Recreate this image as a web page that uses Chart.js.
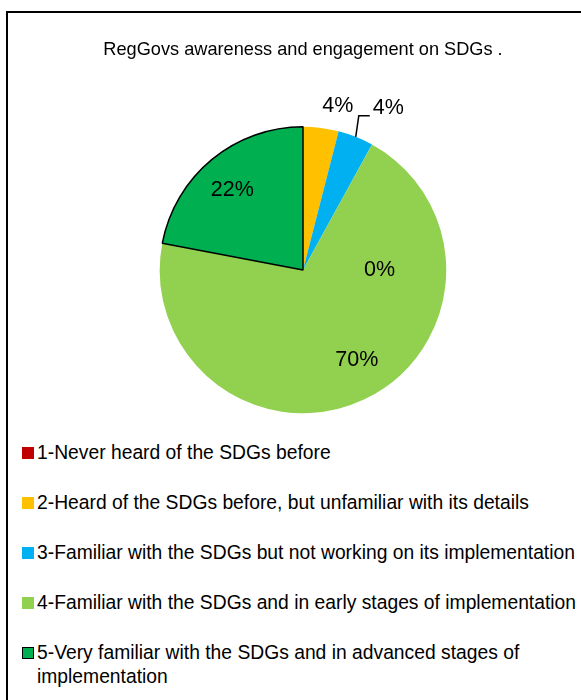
<!DOCTYPE html>
<html>
<head>
<meta charset="utf-8">
<script src="https://cdn.jsdelivr.net/npm/chart.js@4/dist/chart.umd.min.js"></script>
<style>
  html, body { margin: 0; padding: 0; background: #fff; }
  body { width: 581px; height: 700px; position: relative; overflow: hidden; font-family: "Liberation Sans", Arial, sans-serif; }
  #frame { position: absolute; left: 6px; top: 11px; width: 700px; height: 800px; border-left: 2px solid #000; border-top: 2px solid #000; }
  #pie { position: absolute; left: 0; top: 0; }
  #legend { position: absolute; left: 0; top: 441px; width: 581px; color: #000; font-size: 19.3px; }
  .item { position: relative; line-height: 24px; margin-bottom: 26px; padding-left: 37px; white-space: nowrap; }
  .box { position: absolute; left: 22px; top: 6px; width: 12px; height: 12px; box-sizing: border-box; }
</style>
</head>
<body>
<div id="frame"></div>
<canvas id="pie" width="581" height="430"></canvas>
<div id="legend"></div>
<script>
// chart data
const chartTitle = 'RegGovs awareness and engagement on SDGs .';
const categories = [
  '1-Never heard of the SDGs before',
  '2-Heard of the SDGs before, but unfamiliar with its details',
  '3-Familiar with the SDGs but not working on its implementation',
  '4-Familiar with the SDGs and in early stages of implementation',
  ['5-Very familiar with the SDGs and in advanced stages of', 'implementation']
];
const shares = [0, 4, 4, 70, 22];
const sliceColors = ['#C00000', '#FFC000', '#00B0F0', '#92D050', '#00B050'];
const sliceBorders = [0, 0, 0, 0, 1.5];

// where each percentage label sits: angle (deg, canvas coords) and distance as a fraction of the radius
const labelSpots = [
  { angle: 0, dist: 0.535 },
  { angle: -78, dist: 1.17 },
  { angle: -62, dist: 1.29, leader: true },
  { angle: 59, dist: 0.73 },
  { angle: -131.6, dist: 0.743 }
];

// draws the % labels (and the one leader line) from the arc geometry
const pieLabels = {
  id: 'pieLabels',
  afterDatasetsDraw(chart) {
    const ctx = chart.ctx;
    const meta = chart.getDatasetMeta(0);
    ctx.save();
    ctx.fillStyle = '#000';
    ctx.font = '21.5px "Liberation Sans", Arial, sans-serif';
    ctx.textBaseline = 'middle';
    meta.data.forEach((arc, i) => {
      const spot = labelSpots[i];
      const r = arc.outerRadius;
      const text = shares[i] + '%';
      if (spot.leader) {
        const mid = (arc.startAngle + arc.endAngle) / 2;
        const sx = arc.x + Math.cos(mid) * r, sy = arc.y + Math.sin(mid) * r;
        const ex = arc.x + Math.cos(mid - 0.03) * r * 1.145, ey = arc.y + Math.sin(mid - 0.03) * r * 1.145;
        ctx.strokeStyle = '#000';
        ctx.lineWidth = 1.5;
        ctx.beginPath();
        ctx.moveTo(sx, sy);
        ctx.lineTo(ex, ey);
        ctx.lineTo(ex + 11, ey);
        ctx.stroke();
        ctx.textAlign = 'left';
        ctx.fillText(text, ex + 14, ey - 8);
        return;
      }
      const a = spot.angle * Math.PI / 180;
      ctx.textAlign = 'center';
      ctx.fillText(text, arc.x + Math.cos(a) * r * spot.dist, arc.y + Math.sin(a) * r * spot.dist);
    });
    ctx.restore();
  }
};

new Chart(document.getElementById('pie'), {
  type: 'pie',
  data: {
    labels: categories,
    datasets: [{
      data: shares,
      backgroundColor: sliceColors,
      borderColor: '#000',
      borderWidth: sliceBorders,
      hoverOffset: 0
    }]
  },
  options: {
    responsive: false,
    animation: false,
    layout: { padding: { left: 25, right: 0, top: 39, bottom: 16 } },
    plugins: {
      legend: { display: false },
      tooltip: { enabled: false },
      title: {
        display: true,
        text: chartTitle,
        color: '#000',
        font: { family: '"Liberation Sans", Arial, sans-serif', size: 18.2, weight: 'normal' },
        padding: { top: 0, bottom: 65.2 }
      }
    }
  },
  plugins: [pieLabels]
});

// legend built from the same arrays
const legend = document.getElementById('legend');
categories.forEach((label, i) => {
  const item = document.createElement('div');
  item.className = 'item';
  const box = document.createElement('span');
  box.className = 'box';
  box.style.background = sliceColors[i];
  if (sliceBorders[i] > 0) box.style.border = '1.5px solid #000';
  item.appendChild(box);
  const lines = Array.isArray(label) ? label : [label];
  lines.forEach((line, k) => {
    if (k > 0) item.appendChild(document.createElement('br'));
    item.appendChild(document.createTextNode(line));
  });
  legend.appendChild(item);
});
</script>
</body>
</html>
